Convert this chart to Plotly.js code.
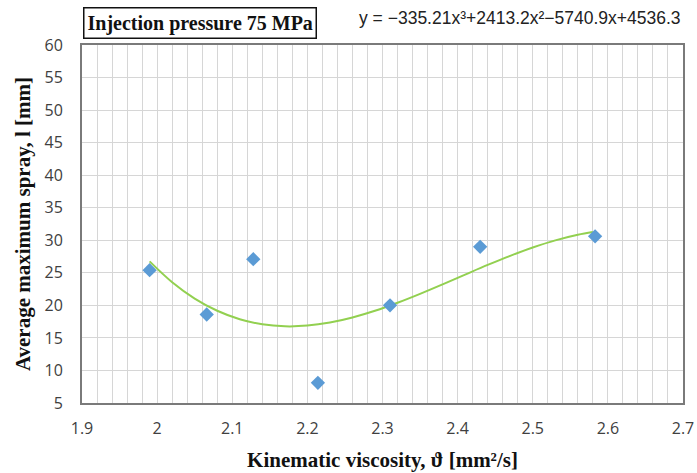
<!DOCTYPE html>
<html>
<head>
<meta charset="utf-8">
<script src="https://cdn.plot.ly/plotly-3.0.1.min.js"></script>
<style>html,body{margin:0;padding:0;background:#fff}#chart{width:697px;height:473px}</style>
</head>
<body>
<div id="chart"></div>
<script>
// Measured data points
const viscosity = [1.99, 2.066, 2.128, 2.214, 2.310, 2.430, 2.583];
const sprayLength = [25.4, 18.6, 27.1, 8.1, 20.0, 29.0, 30.6];
// Polynomial trendline
const trendX = [1.99, 2.02, 2.05, 2.08, 2.11, 2.14, 2.17, 2.20, 2.23, 2.26, 2.29, 2.32, 2.35, 2.38, 2.41, 2.44, 2.47, 2.50, 2.53, 2.56, 2.58];
const trendY = [26.76, 23.56, 21.05, 19.17, 17.87, 17.09, 16.78, 16.89, 17.36, 18.14, 19.17, 20.40, 21.77, 23.23, 24.73, 26.21, 27.61, 28.89, 29.99, 30.85, 31.27];
const xTicks = [1.9, 2, 2.1, 2.2, 2.3, 2.4, 2.5, 2.6, 2.7];
const yTicks = [5, 10, 15, 20, 25, 30, 35, 40, 45, 50, 55, 60];
const chartTitle = 'Injection pressure 75 MPa';
const equationText = 'y = \u2212335.21x\u00b3+2413.2x\u00b2\u22125740.9x+4536.3';
const xTitle = 'Kinematic viscosity, \u03d1 [mm\u00b2/s]';
const yTitle = 'Average maximum spray, l [mm]';

const traces = [
  {x: trendX, y: trendY, mode: 'lines', line: {color: '#92d050', width: 2, shape: 'spline'}, hoverinfo: 'skip'},
  {x: viscosity, y: sprayLength, mode: 'markers', marker: {symbol: 'diamond', color: '#5b9bd5', size: 11}}
];

const tickFont = {family: 'Open Sans, Noto Sans, sans-serif', size: 16, color: '#404040'};
const titleFont = {family: 'Liberation Serif, Times New Roman, serif', size: 21, color: '#111', weight: 'bold'};

const layout = {
  width: 697, height: 473,
  margin: {l: 82, r: 14, t: 45, b: 70},
  paper_bgcolor: '#fff', plot_bgcolor: '#fff',
  showlegend: false,
  xaxis: {
    range: [1.9, 2.7], tickvals: xTicks, ticktext: xTicks.map(String),
    showgrid: true, gridcolor: '#d6d6d6', gridwidth: 1,
    minor: {dtick: 0.02, tick0: 1.9, showgrid: true, gridcolor: '#d6d6d6', gridwidth: 1},
    showline: true, linecolor: '#7a7a7a', linewidth: 2, mirror: true,
    ticks: 'outside', ticklen: 10, tickcolor: 'rgba(0,0,0,0)',
    tickfont: tickFont, zeroline: false,
    title: {text: xTitle, font: titleFont, standoff: 14}
  },
  yaxis: {
    range: [5, 60], tickvals: yTicks,
    showgrid: true, gridcolor: '#d6d6d6', gridwidth: 1,
    showline: true, linecolor: '#7a7a7a', linewidth: 2, mirror: true,
    ticks: 'outside', ticklen: 14, tickcolor: 'rgba(0,0,0,0)',
    tickfont: tickFont, zeroline: false,
    title: {text: yTitle, font: titleFont, standoff: 8}
  },
  annotations: [
    {text: chartTitle, xref: 'paper', yref: 'paper', x: 0.002, y: 1.017, xanchor: 'left', yanchor: 'bottom',
     showarrow: false, font: {family: 'Liberation Serif, Times New Roman, serif', size: 20, color: '#111', weight: 'bold'},
     bordercolor: '#111', borderwidth: 1.5, borderpad: 3, bgcolor: '#fff'},
    {text: equationText, xref: 'paper', yref: 'paper', x: 1.0, y: 1.075, xanchor: 'right', yanchor: 'middle',
     showarrow: false, font: {family: 'Liberation Sans, Arial, sans-serif', size: 17.5, color: '#222'}}
  ]
};

Plotly.newPlot('chart', traces, layout, {staticPlot: true, displayModeBar: false});
</script>
</body>
</html>
